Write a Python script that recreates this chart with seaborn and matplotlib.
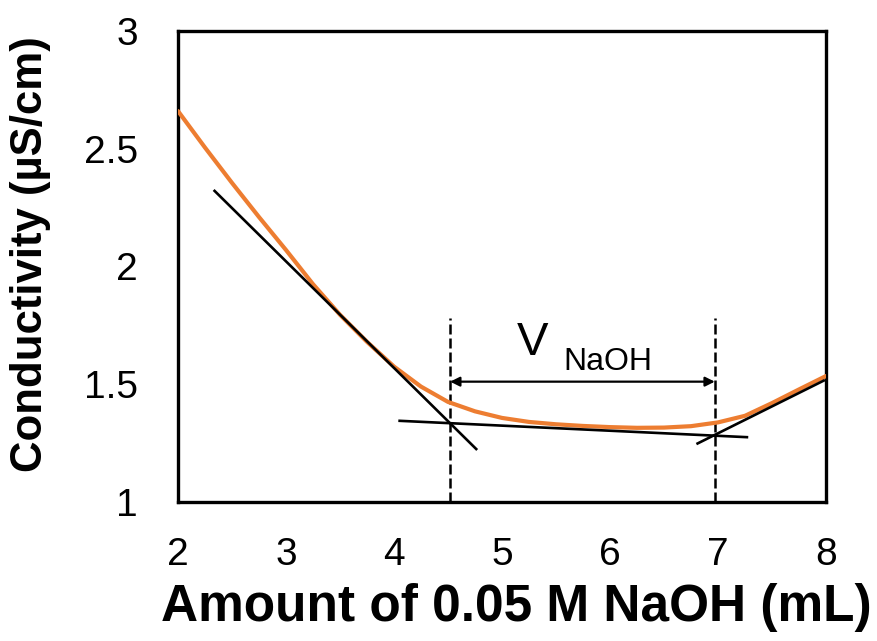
import matplotlib
matplotlib.use("Agg")
import matplotlib.pyplot as plt
import seaborn as sns
import pandas as pd

# Titration readings: volume of NaOH added (mL) vs conductivity (µS/cm)
volume_ml = [2.0, 2.25, 2.5, 2.75, 3.0, 3.25, 3.5, 3.75, 4.0, 4.25, 4.5, 4.75,
             5.0, 5.25, 5.5, 5.75, 6.0, 6.25, 6.5, 6.75, 7.0, 7.25, 7.5, 7.75, 8.0]
conductivity = [2.66, 2.505, 2.355, 2.21, 2.07, 1.925, 1.795, 1.68, 1.575, 1.49,
                1.425, 1.385, 1.357, 1.34, 1.33, 1.323, 1.318, 1.315, 1.316,
                1.322, 1.338, 1.366, 1.42, 1.478, 1.535]

# Straight-line fits to the three branches of the curve
fit1_x, fit1_y = [2.33, 4.77], [2.325, 1.221]
fit2_x, fit2_y = [4.04, 7.28], [1.345, 1.275]
fit3_x, fit3_y = [6.80, 7.99], [1.246, 1.518]

# Equivalence points (intersections of the fits) and marker height
equiv_x = [4.52, 6.97]
equiv_top = 1.781
arrow_y = 1.511

x_ticks = [2, 3, 4, 5, 6, 7, 8]
y_ticks = [1, 1.5, 2, 2.5, 3]
y_tick_labels = ["1", "1.5", "2", "2.5", "3"]

sns.set_theme(style="white")
plt.rcParams["font.family"] = ["Liberation Sans", "DejaVu Sans"]
plt.rcParams.update({"text.color": "black", "axes.labelcolor": "black",
                     "xtick.color": "black", "ytick.color": "black"})

fig = plt.figure(figsize=(8.78, 6.41), dpi=100)
ax = fig.add_axes([178 / 878, 1 - 502 / 641, 648 / 878, 471 / 641])

df = pd.DataFrame({"volume": volume_ml, "conductivity": conductivity})
sns.lineplot(data=df, x="volume", y="conductivity", ax=ax, color="#ED7D31",
             lw=3.0, sort=True, estimator=None, zorder=3)

for fx, fy in [(fit1_x, fit1_y), (fit2_x, fit2_y), (fit3_x, fit3_y)]:
    ax.plot(fx, fy, color="black", lw=1.9, solid_capstyle="butt", zorder=4)

ax.vlines(equiv_x, 1.0, equiv_top, colors="black", lw=1.8,
          linestyles=(0, (4, 1.6)), zorder=2)

ax.annotate("", xy=(equiv_x[0], arrow_y), xytext=(equiv_x[1], arrow_y),
            arrowprops=dict(arrowstyle="<|-|>", color="black", lw=1.6,
                            mutation_scale=14, shrinkA=0, shrinkB=0))

ax.text(5.14, 1.624, "V", fontsize=34, ha="left", va="baseline", color="black")
ax.text(5.565, 1.56, "NaOH", fontsize=23, ha="left", va="baseline", color="black")

ax.set_xlim(2, 8)
ax.set_ylim(1, 3)
ax.set_xticks(x_ticks)
ax.set_yticks(y_ticks)
ax.set_yticklabels(y_tick_labels)

for side in ["left", "right", "top", "bottom"]:
    ax.spines[side].set_visible(True)
    ax.spines[side].set_color("black")
    ax.spines[side].set_linewidth(2.4)

ax.tick_params(axis="both", direction="in", length=7.5, width=2.2,
               colors="black", labelcolor="black", labelsize=28)
ax.tick_params(axis="x", pad=25)
ax.tick_params(axis="y", pad=29)

ax.set_xlabel("Amount of 0.05 M NaOH (mL)", fontsize=37, fontweight="bold",
              color="black")
ax.set_ylabel("Conductivity (µS/cm)", fontsize=31.5, fontweight="bold",
              color="black")
ax.xaxis.set_label_coords(0.522, -0.223)
ax.xaxis.label.set_va("center")
ax.yaxis.set_label_coords(-0.228, 0.527)
ax.yaxis.label.set_va("center")

fig.savefig("out.png", dpi=100, facecolor="white")
